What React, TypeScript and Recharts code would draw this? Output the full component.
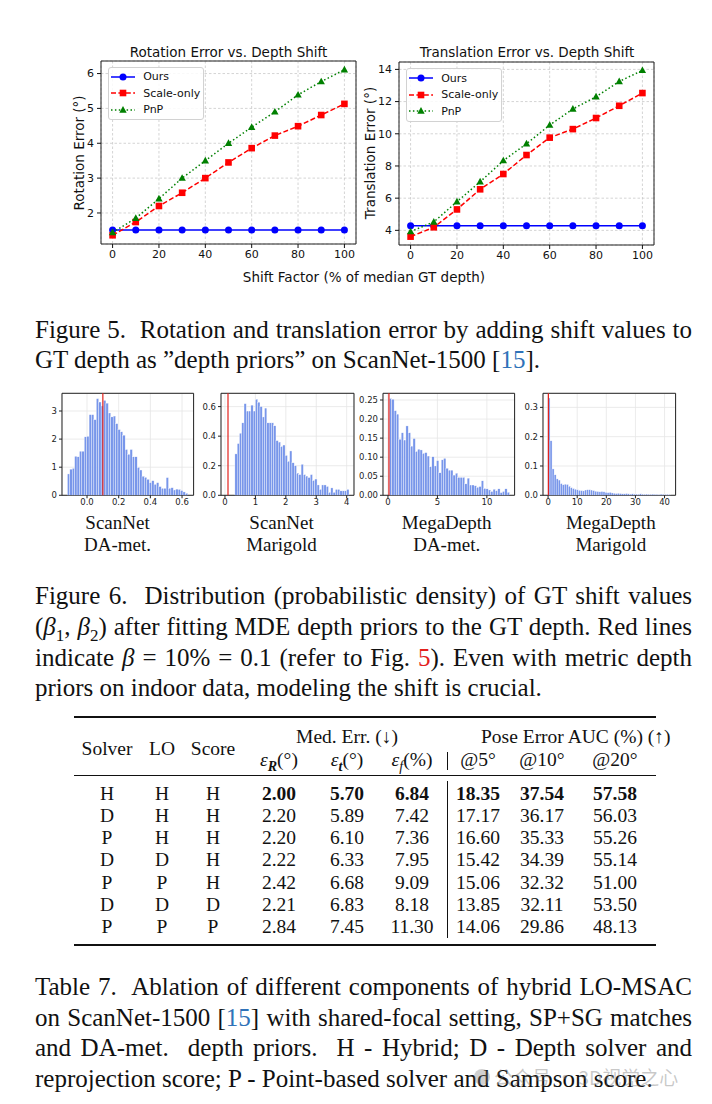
import React from 'react';
import {
  LineChart, Line, XAxis, YAxis, CartesianGrid, ReferenceArea, ReferenceLine,
  Legend, BarChart, Bar,
} from 'recharts';

// ---------------- Figure 5 data ----------------
const shiftFactors = [0, 10, 20, 30, 40, 50, 60, 70, 80, 90, 100];
const rotOurs = [1.51, 1.51, 1.51, 1.51, 1.51, 1.51, 1.51, 1.51, 1.51, 1.51, 1.51];
const rotScaleOnly = [1.36, 1.74, 2.2, 2.58, 3.0, 3.45, 3.86, 4.22, 4.49, 4.81, 5.13];
const rotPnP = [1.44, 1.85, 2.41, 3.0, 3.5, 4.0, 4.46, 4.9, 5.39, 5.77, 6.11];
const transOurs = [4.28, 4.28, 4.28, 4.28, 4.28, 4.28, 4.28, 4.28, 4.28, 4.28, 4.28];
const transScaleOnly = [3.61, 4.19, 5.3, 6.55, 7.5, 8.68, 9.76, 10.29, 10.98, 11.74, 12.53];
const transPnP = [3.92, 4.52, 5.78, 7.02, 8.33, 9.38, 10.54, 11.54, 12.3, 13.25, 13.94];
const shiftTicks = [0, 20, 40, 60, 80, 100];
const rotTicks = [2, 3, 4, 5, 6];
const transTicks = [4, 6, 8, 10, 12, 14];

// ---------------- Figure 6 data (densities per bin) ----------------
const scannetDA = [
  0.76, 0.93, 0.96, 1.39, 1.37, 1.57, 1.57, 2.08, 2.1, 2.87,
  2.87, 2.69, 3.44, 3.32, 3.18, 3.38, 3.28, 2.93, 2.79, 2.82,
  2.55, 2.34, 2.26, 2.14, 1.63, 1.46, 1.63, 1.37, 1.37, 0.99,
  0.9, 0.68, 0.64, 0.57, 0.45, 0.52, 0.39, 0.45, 0.31, 0.25,
  0.25, 0.63, 0.25, 0.27, 0.19, 0.22, 0.21, 0.17, 0.12, 0.07,
];
const scannetMarigold = [
  0.28, 0.35, 0.42, 0.49, 0.62, 0.57, 0.57, 0.61, 0.57, 0.65,
  0.63, 0.6, 0.53, 0.59, 0.49, 0.49, 0.49, 0.47, 0.37, 0.36,
  0.33, 0.34, 0.27, 0.23, 0.3, 0.22, 0.2, 0.15, 0.14, 0.21,
  0.14, 0.13, 0.12, 0.14, 0.1, 0.11, 0.07, 0.04, 0.07, 0.07,
  0.06, 0.02, 0.05, 0.02, 0.04, 0.04, 0.03, 0.03, 0.03, 0.04,
];
const megaDA = [
  0.254, 0.252, 0.222, 0.213, 0.147, 0.164, 0.145, 0.182, 0.164, 0.129,
  0.149, 0.115, 0.121, 0.119, 0.11, 0.112, 0.103, 0.075, 0.101, 0.077,
  0.091, 0.059, 0.093, 0.097, 0.071, 0.066, 0.066, 0.053, 0.058, 0.047,
  0.047, 0.047, 0.03, 0.045, 0.027, 0.027, 0.025, 0.021, 0.023, 0.038,
  0.018, 0.017, 0.014, 0.01, 0.016, 0.012, 0.017, 0.007, 0.01, 0.017, 0.008,
];
const megaMarigold = [
  0.332, 0.186, 0.09, 0.07, 0.056, 0.052, 0.04, 0.036, 0.038, 0.037,
  0.031, 0.026, 0.023, 0.021, 0.019, 0.017, 0.016, 0.015, 0.018, 0.019,
  0.019, 0.018, 0.016, 0.014, 0.013, 0.012, 0.013, 0.012, 0.01, 0.009,
  0.01, 0.008, 0.007, 0.006, 0.007, 0.006, 0.005, 0.005, 0.006, 0.005,
  0.004, 0.005, 0.004, 0.004, 0.003, 0.005, 0.004, 0.003, 0.004, 0.003,
  0.003, 0.004, 0.003, 0.003, 0.002, 0.004, 0.003, 0.002, 0.003, 0.002,
];
const betaLine = 0.1;

// ---------------- Table 7 data ----------------
const solverCol = ['H', 'D', 'P', 'D', 'P', 'D', 'P'];
const loCol = ['H', 'H', 'H', 'D', 'P', 'D', 'P'];
const scoreCol = ['H', 'H', 'H', 'H', 'H', 'D', 'P'];
const errR = ['2.00', '2.20', '2.20', '2.22', '2.42', '2.21', '2.84'];
const errT = ['5.70', '5.89', '6.10', '6.33', '6.68', '6.83', '7.45'];
const errF = ['6.84', '7.42', '7.36', '7.95', '9.09', '8.18', '11.30'];
const auc5 = ['18.35', '17.17', '16.60', '15.42', '15.06', '13.85', '14.06'];
const auc10 = ['37.54', '36.17', '35.33', '34.39', '32.32', '32.11', '29.86'];
const auc20 = ['57.58', '56.03', '55.26', '55.14', '51.00', '53.50', '48.13'];

// ---------------- styling ----------------
const SANS = '"DejaVu Sans", sans-serif';
const SERIF = '"Liberation Serif", "Times New Roman", serif';
const LINK_BLUE = '#2f72b8';
const REF_RED = '#e3211c';

type MarkerKind = 'circle' | 'square' | 'triangle';
const SERIES: { key: string; name: string; color: string; dash?: string; marker: MarkerKind }[] = [
  { key: 'ours', name: 'Ours', color: '#0000ff', marker: 'circle' },
  { key: 'scale', name: 'Scale-only', color: '#ff0000', dash: '5 2.4', marker: 'square' },
  { key: 'pnp', name: 'PnP', color: '#008000', dash: '1.5 2.4', marker: 'triangle' },
];

function marker(kind: MarkerKind, cx: number, cy: number, color: string, key?: any) {
  if (kind === 'circle') return <circle key={key} cx={cx} cy={cy} r={3.5} fill={color} />;
  if (kind === 'square') return <rect key={key} x={cx - 3.3} y={cy - 3.3} width={6.6} height={6.6} fill={color} />;
  return (
    <polygon
      key={key}
      points={`${cx},${cy - 3.9} ${cx + 3.7},${cy + 2.7} ${cx - 3.7},${cy + 2.7}`}
      fill={color}
    />
  );
}

const LegendBox = () => (
  <div
    style={{
      border: '1px solid #d2d2d2', borderRadius: 3, background: 'rgba(255,255,255,0.85)',
      padding: '1px 3px 1px 2px', fontFamily: SANS, fontSize: 11, color: '#111', whiteSpace: 'nowrap',
    }}
  >
    {SERIES.map((s) => (
      <div key={s.key} style={{ display: 'flex', alignItems: 'center', height: 16.5 }}>
        <svg width={24} height={12} style={{ marginRight: 8.5, flex: 'none' }}>
          <line x1={0} y1={6} x2={24} y2={6} stroke={s.color} strokeWidth={1.5} strokeDasharray={s.dash} />
          {marker(s.marker, 12, 6, s.color)}
        </svg>
        <span>{s.name}</span>
      </div>
    ))}
  </div>
);

type ErrProps = {
  left: number; top: number; width: number; yAxisW: number; marginTop: number;
  ours: number[]; scale: number[]; pnp: number[]; yDomain: [number, number]; yTicks: number[];
  legendLeft: number; legendTop: number;
};

function ErrorChart(p: ErrProps) {
  const data = shiftFactors.map((x, i) => ({ x, ours: p.ours[i], scale: p.scale[i], pnp: p.pnp[i] }));
  const xDomain: [number, number] = [-5, 105];
  return (
    <div style={{ position: 'absolute', left: p.left, top: p.top }}>
      <LineChart width={p.width} height={p.marginTop + 183 + 26} data={data}
        margin={{ top: p.marginTop, right: 4, bottom: 0, left: 0 }}>
        <CartesianGrid stroke="#c9c9c9" strokeWidth={0.8} strokeDasharray="2.5 2" />
        <XAxis type="number" dataKey="x" domain={xDomain} ticks={shiftTicks} allowDataOverflow
          axisLine={false} tickSize={4} tickMargin={2} height={26} interval={0}
          tickLine={{ stroke: '#111' }} tick={{ fontSize: 11, fill: '#111', fontFamily: SANS }} />
        <YAxis type="number" domain={p.yDomain} ticks={p.yTicks} allowDataOverflow width={p.yAxisW}
          axisLine={false} tickSize={4} tickMargin={3} interval={0}
          tickLine={{ stroke: '#111' }} tick={{ fontSize: 11, fill: '#111', fontFamily: SANS }} />
        <ReferenceArea x1={xDomain[0]} x2={xDomain[1]} y1={p.yDomain[0]} y2={p.yDomain[1]}
          fill="none" stroke="#222" strokeWidth={1} />
        {SERIES.map((s) => (
          <Line key={s.key} dataKey={s.key} name={s.name} stroke={s.color} strokeWidth={1.5}
            strokeDasharray={s.dash} isAnimationActive={false}
            dot={(d: any) => marker(s.marker, d.cx, d.cy, s.color, `${s.key}-${d.index}`)}
            activeDot={false} />
        ))}
        <Legend layout="vertical" align="center" verticalAlign="middle" content={() => <LegendBox />}
          wrapperStyle={{ left: p.legendLeft, top: p.legendTop, width: 'auto', height: 'auto' }} />
      </LineChart>
    </div>
  );
}

type HistProps = {
  plotLeft: number; plotW: number; values: number[]; binStart: number; binWidth: number;
  xDomain: [number, number]; yDomain: [number, number]; xTicks: number[]; yTicks: number[];
  xFmt: (v: number) => string; yFmt: (v: number) => string;
};

function HistPanel(p: HistProps) {
  const yAxisW = 34;
  const data = p.values.map((d, i) => ({ x: p.binStart + (i + 0.5) * p.binWidth, d }));
  const barPx = (p.binWidth / (p.xDomain[1] - p.xDomain[0])) * p.plotW;
  const tickStyle = { fontSize: 8.5, fill: '#222', fontFamily: SANS };
  return (
    <div style={{ position: 'absolute', left: p.plotLeft - yAxisW, top: 390 }}>
      <BarChart width={yAxisW + p.plotW + 4} height={3.3 + 102 + 16} data={data}
        margin={{ top: 3.3, right: 4, bottom: 0, left: 0 }} barCategoryGap={0} barGap={0}>
        <CartesianGrid stroke="#e6e6e6" strokeWidth={0.8} />
        <XAxis type="number" dataKey="x" domain={p.xDomain} ticks={p.xTicks} allowDataOverflow
          axisLine={false} tickSize={3} tickMargin={1} height={16} interval={0}
          tickFormatter={p.xFmt} tickLine={{ stroke: '#222' }} tick={tickStyle} />
        <YAxis type="number" domain={p.yDomain} ticks={p.yTicks} allowDataOverflow width={yAxisW}
          axisLine={false} tickSize={3} tickMargin={2} interval={0}
          tickFormatter={p.yFmt} tickLine={{ stroke: '#222' }} tick={tickStyle} />
        <Bar dataKey="d" isAnimationActive={false} barSize={barPx} fill="#7896ea"
          shape={(b: any) => (
            <rect x={b.x + b.width / 2 - barPx / 2} y={b.y} width={barPx} height={b.height}
              fill="#7896ea" stroke="#ffffff" strokeWidth={0.35} />
          )} />
        <ReferenceLine x={betaLine} stroke={REF_RED} strokeWidth={1.2} />
        <ReferenceArea x1={p.xDomain[0]} x2={p.xDomain[1]} y1={p.yDomain[0]} y2={p.yDomain[1]}
          fill="none" stroke="#222" strokeWidth={1} />
      </BarChart>
    </div>
  );
}

const Abs = ({ cx, cy, size, family, children, rotate, weight, color }: any) => (
  <div style={{
    position: 'absolute', left: cx, top: cy, transform: `translate(-50%, -50%)${rotate ? ' rotate(-90deg)' : ''}`,
    fontSize: size, fontFamily: family, whiteSpace: 'nowrap', lineHeight: 1, fontWeight: weight || 400,
    color: color || '#111',
  }}>{children}</div>
);

const CapLine = ({ cy, last, children }: any) => (
  <div style={{
    position: 'absolute', left: 35, top: cy - 16.5, width: 657, height: 30, lineHeight: '30px',
    fontSize: 25, fontFamily: SERIF, color: '#111',
    textAlign: last ? 'left' : 'justify', textAlignLast: last ? 'left' : 'justify',
  } as any}>{children}</div>
);

const Cell = ({ cx, cy, bold, children }: any) => (
  <div style={{
    position: 'absolute', left: cx - 70, width: 140, top: cy - 12, height: 24, lineHeight: '24px',
    textAlign: 'center', fontSize: 19.5, fontWeight: bold ? 700 : 400, fontFamily: SERIF,
    whiteSpace: 'nowrap', color: '#111',
  }}>{children}</div>
);

const Rule = ({ y, h }: any) => (
  <div style={{ position: 'absolute', left: 74, width: 582, top: y - h / 2, height: h, background: '#111' }} />
);

const tableColX = [107, 162, 213, 279, 347, 412, 478, 542, 615];
const rowY0 = 793.5;
const rowStep = 22.25;

export default function App() {
  const dataCols = [solverCol, loCol, scoreCol, errR, errT, errF, auc5, auc10, auc20];
  return (
    <div style={{ position: 'absolute', left: 0, top: 0, width: 712, height: 1104, background: '#fff', overflow: 'hidden' }}>
      {/* Figure 5 */}
      <Abs cx={228.5} cy={52.5} size={13.5} family={SANS}>Rotation Error vs. Depth Shift</Abs>
      <Abs cx={527} cy={52.5} size={13.5} family={SANS}>Translation Error vs. Depth Shift</Abs>
      <Abs cx={80} cy={153} size={13.5} family={SANS} rotate>Rotation Error (°)</Abs>
      <Abs cx={370.5} cy={153} size={13.5} family={SANS} rotate>Translation Error (°)</Abs>
      <Abs cx={364} cy={278} size={13.5} family={SANS}>Shift Factor (% of median GT depth)</Abs>
      <ErrorChart left={60} top={40} width={300} yAxisW={41} marginTop={21}
        ours={rotOurs} scale={rotScaleOnly} pnp={rotPnP} yDomain={[1.11, 6.36]} yTicks={rotTicks}
        legendLeft={47.7} legendTop={26.5} />
      <ErrorChart left={355} top={40} width={303} yAxisW={44} marginTop={22}
        ours={transOurs} scale={transScaleOnly} pnp={transPnP} yDomain={[3.09, 14.46]} yTicks={transTicks}
        legendLeft={50.7} legendTop={28} />

      <CapLine cy={331}>Figure 5.&nbsp; Rotation and translation error by adding shift values to</CapLine>
      <CapLine cy={361} last>GT depth as ”depth priors” on ScanNet-1500 [<span style={{ color: LINK_BLUE }}>15</span>].</CapLine>

      {/* Figure 6 */}
      <HistPanel plotLeft={61.7} plotW={131.6} values={scannetDA} binStart={-0.123} binWidth={0.0152}
        xDomain={[-0.158, 0.673]} yDomain={[0, 3.63]} xTicks={[0, 0.2, 0.4, 0.6]} yTicks={[0, 1, 2, 3]}
        xFmt={(v) => v.toFixed(1)} yFmt={(v) => String(v)} />
      <HistPanel plotLeft={221} plotW={133} values={scannetMarigold} binStart={0.33} binWidth={0.075}
        xDomain={[-0.13, 4.24]} yDomain={[0, 0.69]} xTicks={[0, 1, 2, 3, 4]} yTicks={[0, 0.2, 0.4, 0.6]}
        xFmt={(v) => String(v)} yFmt={(v) => v.toFixed(1)} />
      <HistPanel plotLeft={382.7} plotW={131.6} values={megaDA} binStart={0.16} binWidth={0.238}
        xDomain={[-0.5, 12.8]} yDomain={[0, 0.2676]} xTicks={[0, 5, 10]} yTicks={[0, 0.05, 0.1, 0.15, 0.2, 0.25]}
        xFmt={(v) => String(v)} yFmt={(v) => v.toFixed(2)} />
      <HistPanel plotLeft={542.7} plotW={132.6} values={megaMarigold} binStart={0} binWidth={0.7}
        xDomain={[-1.75, 43.8]} yDomain={[0, 0.348]} xTicks={[0, 10, 20, 30, 40]} yTicks={[0, 0.1, 0.2, 0.3]}
        xFmt={(v) => String(v)} yFmt={(v) => v.toFixed(1)} />
      <Abs cx={117.5} cy={521.5} size={19} family={SERIF}>ScanNet</Abs>
      <Abs cx={117.5} cy={544} size={19} family={SERIF}>DA-met.</Abs>
      <Abs cx={281.5} cy={521.5} size={19} family={SERIF}>ScanNet</Abs>
      <Abs cx={281.5} cy={544} size={19} family={SERIF}>Marigold</Abs>
      <Abs cx={446.7} cy={521.5} size={19} family={SERIF}>MegaDepth</Abs>
      <Abs cx={446.7} cy={544} size={19} family={SERIF}>DA-met.</Abs>
      <Abs cx={610.8} cy={521.5} size={19} family={SERIF}>MegaDepth</Abs>
      <Abs cx={610.8} cy={544} size={19} family={SERIF}>Marigold</Abs>

      <CapLine cy={597}>Figure 6.&nbsp; Distribution (probabilistic density) of GT shift values</CapLine>
      <CapLine cy={628}>(<i>β</i><sub style={{ fontSize: 17 }}>1</sub>, <i>β</i><sub style={{ fontSize: 17 }}>2</sub>) after fitting MDE depth priors to the GT depth. Red lines</CapLine>
      <CapLine cy={659}>indicate <i>β</i> = 10% = 0.1 (refer to Fig. <span style={{ color: REF_RED }}>5</span>). Even with metric depth</CapLine>
      <CapLine cy={689} last>priors on indoor data, modeling the shift is crucial.</CapLine>

      {/* Table 7 */}
      <Rule y={716.7} h={2} />
      <Rule y={775.5} h={1} />
      <Rule y={945} h={2} />
      <div style={{ position: 'absolute', left: 446.5, top: 752, width: 1, height: 18, background: '#111' }} />
      <div style={{ position: 'absolute', left: 446.5, top: 781, width: 1, height: 157, background: '#111' }} />
      <Cell cx={347} cy={737}>Med. Err. (↓)</Cell>
      <Cell cx={551} cy={737}>Pose Error AUC (%) (↑)</Cell>
      <Cell cx={107} cy={748.5}>Solver</Cell>
      <Cell cx={162} cy={748.5}>LO</Cell>
      <Cell cx={213} cy={748.5}>Score</Cell>
      <Cell cx={279} cy={760}><i>ε</i><sub style={{ fontSize: 14 }}><b><i>R</i></b></sub>(°)</Cell>
      <Cell cx={347} cy={760}><i>ε</i><sub style={{ fontSize: 14 }}><b><i>t</i></b></sub>(°)</Cell>
      <Cell cx={412} cy={760}><i>ε</i><sub style={{ fontSize: 14 }}><i>f</i></sub>(%)</Cell>
      <Cell cx={478} cy={760}>@5°</Cell>
      <Cell cx={542} cy={760}>@10°</Cell>
      <Cell cx={615} cy={760}>@20°</Cell>
      {dataCols.map((col, c) =>
        col.map((v, r) => (
          <Cell key={`${c}-${r}`} cx={tableColX[c]} cy={rowY0 + r * rowStep} bold={r === 0 && c >= 3}>{v}</Cell>
        ))
      )}

      <CapLine cy={988.5}>Table 7.&nbsp; Ablation of different components of hybrid LO-MSAC</CapLine>
      <CapLine cy={1019}>on ScanNet-1500 [<span style={{ color: LINK_BLUE }}>15</span>] with shared-focal setting, SP+SG matches</CapLine>
      <CapLine cy={1049.5}>and DA-met.&nbsp; depth priors.&nbsp; H - Hybrid; D - Depth solver and</CapLine>
      <CapLine cy={1080} last>reprojection score; P - Point-based solver and Sampson score.</CapLine>

      {/* watermark */}
      <div style={{ position: 'absolute', left: 474, top: 1069, width: 16, height: 16, borderRadius: 8, background: 'rgba(120,120,120,0.35)' }} />
      <div style={{
        position: 'absolute', left: 494, top: 1065, fontSize: 19, lineHeight: '24px',
        fontFamily: '"Noto Sans CJK SC", sans-serif', color: 'rgba(110,110,110,0.38)', whiteSpace: 'nowrap',
      }}>公众号 · 3D视觉之心</div>
    </div>
  );
}
